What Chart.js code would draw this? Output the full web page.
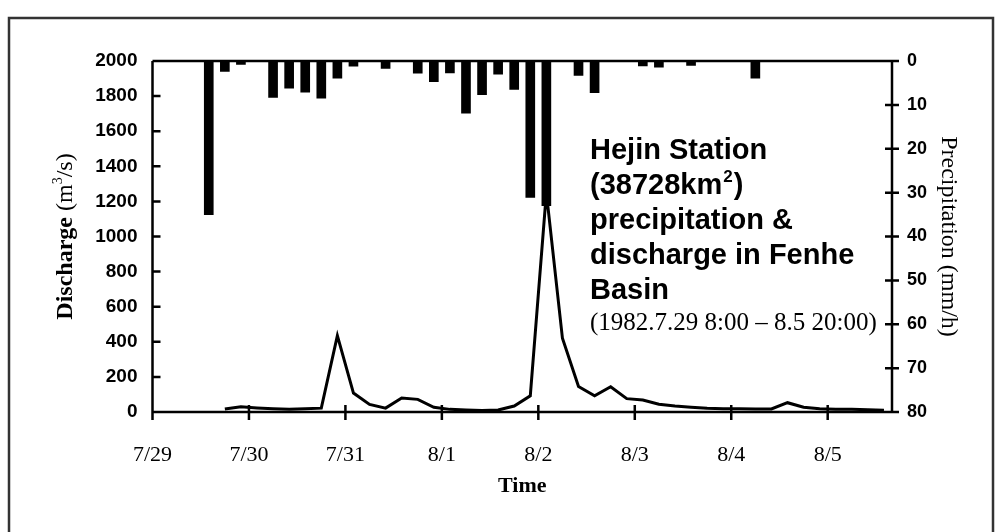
<!DOCTYPE html>
<html>
<head>
<meta charset="utf-8">
<script src="https://cdn.jsdelivr.net/npm/chart.js@4.4.0/dist/chart.umd.min.js"></script>
<style>
  html, body { margin: 0; padding: 0; background: #fff; }
  canvas { display: block; }
</style>
</head>
<body>
<canvas id="chart" width="996" height="532"></canvas>
<script>
// hours since 7/29 0:00, one value every 4 hours
const hours = [
  14, 18, 22, 26, 30, 34, 38, 42, 46, 50, 54, 58, 62, 66, 70, 74, 78, 82,
  86, 90, 94, 98, 102, 106, 110, 114, 118, 122, 126, 130, 134, 138, 142,
  146, 150, 154, 158, 162, 166, 170, 174, 178, 182,
];

// mm/h
const precipitation = [
  35, 2.4, 0.8, 0, 8.3, 6.2, 7.1, 8.5, 3.9, 1.2, 0, 1.7, 0, 2.8, 4.7, 2.7,
  11.9, 7.7, 3.0, 6.5, 31.1, 33, 0, 3.3, 7.2, 0, 0, 1.1, 1.4, 0, 1.0, 0, 0,
  0, 3.9, 0, 0, 0, 0, 0, 0, 0, 0,
];

// m3/s
const discharge = [
  null, 17, 30, 23, 18, 15, 19, 22, 435, 108, 43, 22, 80, 72, 27, 15, 11, 8,
  11, 34, 92, 1250, 420, 145, 92, 144, 76, 68, 44, 34, 27, 21, 19, 18, 17,
  17, 53, 27, 18, 16, 15, 13, 10,
];

const dayLabels = ["7/29", "7/30", "7/31", "8/1", "8/2", "8/3", "8/4", "8/5"];

const titleLines = ["Hejin Station", "(38728km", "precipitation &", "discharge in Fenhe", "Basin"];
const subtitle = "(1982.7.29 8:00 \u2013 8.5 20:00)";

const SANS = "'Liberation Sans', Arial, sans-serif";
const SERIF = "'Liberation Serif', 'Times New Roman', serif";

const decor = {
  id: "decor",
  beforeDraw(chart) {
    const c = chart.ctx;
    c.save();
    c.fillStyle = "#fff";
    c.fillRect(0, 0, chart.width, chart.height);
    c.strokeStyle = "#333";
    c.lineWidth = 2.5;
    c.strokeRect(9, 18, 984, 540);
    c.restore();
  },
  afterDraw(chart) {
    const c = chart.ctx;
    const a = chart.chartArea;
    const { x, y, y1 } = chart.scales;
    c.save();
    c.strokeStyle = "#000";
    c.lineWidth = 2.5;
    c.beginPath();
    c.moveTo(a.left, a.top); c.lineTo(a.right, a.top);
    c.moveTo(a.left, a.top); c.lineTo(a.left, a.bottom);
    c.moveTo(a.left, a.bottom); c.lineTo(a.right, a.bottom);
    c.moveTo(a.right, a.top); c.lineTo(a.right, a.bottom);
    y.ticks.forEach((t) => {
      const p = y.getPixelForValue(t.value);
      c.moveTo(a.left, p); c.lineTo(a.left + 8, p);
    });
    y1.ticks.forEach((t) => {
      const p = y1.getPixelForValue(t.value);
      c.moveTo(a.right - 7, p); c.lineTo(a.right + 7, p);
    });
    x.ticks.forEach((t) => {
      const p = x.getPixelForValue(t.value);
      c.moveTo(p, a.bottom - 7); c.lineTo(p, a.bottom + 8);
    });
    c.stroke();

    c.fillStyle = "#000";
    c.textBaseline = "alphabetic";

    // left axis title
    c.save();
    c.translate(72, (a.top + a.bottom) / 2);
    c.rotate(-Math.PI / 2);
    const parts = [
      ["Discharge", "bold 24px " + SERIF, 0],
      [" (m", "24px " + SERIF, 0],
      ["3", "14px " + SERIF, -10],
      ["/s)", "24px " + SERIF, 0],
    ];
    let total = 0;
    parts.forEach((p) => { c.font = p[1]; total += c.measureText(p[0]).width; });
    let cx = -total / 2;
    parts.forEach((p) => {
      c.font = p[1];
      c.fillText(p[0], cx, p[2]);
      cx += c.measureText(p[0]).width;
    });
    c.restore();

    // right axis title
    c.save();
    c.translate(942, (a.top + a.bottom) / 2);
    c.rotate(Math.PI / 2);
    c.font = "24px " + SERIF;
    c.textAlign = "center";
    c.fillText("Precipitation (mm/h)", 0, 0);
    c.restore();

    // x axis title
    c.font = "bold 22px " + SERIF;
    c.textAlign = "center";
    c.fillText("Time", (a.left + a.right) / 2, 492);

    // title block
    c.textAlign = "left";
    titleLines.forEach((line, i) => {
      const by = 159 + i * 35;
      c.font = "bold 29px " + SANS;
      c.fillText(line, 590, by);
      if (i === 1) {
        let w = c.measureText(line).width;
        c.font = "bold 17px " + SANS;
        c.fillText("2", 590 + w + 1, by - 12);
        w += c.measureText("2").width + 2;
        c.font = "bold 29px " + SANS;
        c.fillText(")", 590 + w, by);
      }
    });
    c.font = "25px " + SERIF;
    c.fillText(subtitle, 590, 330);
    c.restore();
  },
};

new Chart(document.getElementById("chart"), {
  type: "bar",
  data: {
    datasets: [
      {
        type: "bar",
        label: "Precipitation",
        data: hours.map((h, i) => ({ x: h, y: precipitation[i] })),
        yAxisID: "y1",
        backgroundColor: "#000",
        barThickness: 9,
      },
      {
        type: "line",
        label: "Discharge",
        data: hours.map((h, i) => ({ x: h, y: discharge[i] })),
        yAxisID: "y",
        borderColor: "#000",
        borderWidth: 3,
        pointRadius: 0,
        tension: 0,
      },
    ],
  },
  options: {
    responsive: false,
    animation: false,
    layout: { padding: { top: 61, left: 0, right: 0, bottom: 0 } },
    plugins: { legend: { display: false }, tooltip: { enabled: false } },
    scales: {
      x: {
        type: "linear",
        min: 0,
        max: 184,
        offset: false,
        afterFit: (s) => { s.height = 120; },
        grid: { display: false, drawTicks: false },
        border: { display: false },
        ticks: {
          stepSize: 24,
          includeBounds: false,
          autoSkip: false,
          maxRotation: 0,
          padding: 30,
          color: "#000",
          font: { family: SERIF, size: 22 },
          callback: (v) => dayLabels[v / 24] ?? "",
        },
      },
      y: {
        position: "left",
        min: 0,
        max: 2000,
        afterFit: (s) => { s.width = 152.5; },
        grid: { display: false, drawTicks: false },
        border: { display: false },
        ticks: {
          stepSize: 200,
          padding: 15,
          color: "#000",
          font: { family: SANS, size: 19, weight: "bold" },
          callback: (v) => String(v),
        },
      },
      y1: {
        position: "right",
        reverse: true,
        min: 0,
        max: 80,
        afterFit: (s) => { s.width = 104; },
        grid: { display: false, drawTicks: false },
        border: { display: false },
        ticks: {
          stepSize: 10,
          padding: 15,
          color: "#000",
          font: { family: SANS, size: 18, weight: "bold" },
          callback: (v) => String(v),
        },
      },
    },
  },
  plugins: [decor],
});
</script>
</body>
</html>
